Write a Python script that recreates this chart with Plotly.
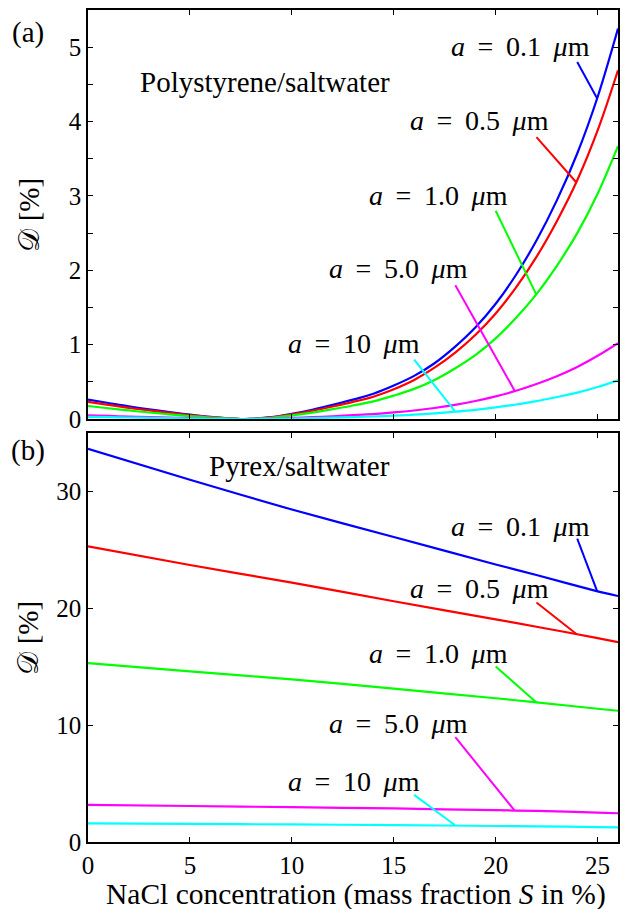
import plotly.graph_objects as go

# ---------------- data ----------------
S_top = [0, 1, 2, 3, 4, 5, 6, 7, 7.5, 8, 9, 10, 11, 12, 13, 14, 15, 16, 17, 18, 19, 20, 21, 22, 23, 24, 25, 26]
ps_a01 = [0.26, 0.215, 0.17, 0.13, 0.092, 0.058, 0.028, 0.007, 0.0, 0.003, 0.025, 0.07, 0.125, 0.19, 0.26, 0.34,
          0.45, 0.58, 0.75, 0.97, 1.23, 1.55, 1.94, 2.40, 2.94, 3.57, 4.33, 5.25]
ps_a05 = [0.23, 0.19, 0.15, 0.115, 0.082, 0.052, 0.025, 0.006, 0.0, 0.003, 0.022, 0.062, 0.11, 0.168, 0.23, 0.30,
          0.40, 0.525, 0.69, 0.89, 1.13, 1.42, 1.77, 2.18, 2.66, 3.21, 3.88, 4.69]
ps_a10 = [0.175, 0.145, 0.115, 0.088, 0.063, 0.04, 0.02, 0.005, 0.0, 0.002, 0.017, 0.048, 0.087, 0.133, 0.182, 0.238,
          0.315, 0.405, 0.525, 0.68, 0.86, 1.085, 1.36, 1.68, 2.06, 2.50, 3.03, 3.67]
ps_a50 = [0.05, 0.042, 0.033, 0.025, 0.018, 0.011, 0.005, 0.001, 0.0, 0.001, 0.005, 0.014, 0.025, 0.037, 0.051, 0.067,
          0.088, 0.114, 0.148, 0.19, 0.242, 0.305, 0.38, 0.47, 0.575, 0.70, 0.85, 1.02]
ps_a100 = [0.03, 0.025, 0.02, 0.015, 0.011, 0.007, 0.003, 0.001, 0.0, 0.0005, 0.003, 0.007, 0.013, 0.019, 0.026, 0.034,
           0.045, 0.058, 0.076, 0.098, 0.124, 0.156, 0.195, 0.24, 0.295, 0.355, 0.43, 0.52]

S_bot = [0, 5, 10, 15, 20, 22, 25, 26]
py_a01 = [33.65, 31.0, 28.45, 26.1, 23.75, 22.85, 21.45, 21.05]
py_a05 = [25.3, 23.7, 22.2, 20.6, 19.05, 18.42, 17.45, 17.1]
py_a10 = [15.3, 14.6, 13.92, 13.12, 12.3, 11.95, 11.4, 11.23]
py_a50 = [3.17, 3.08, 2.98, 2.87, 2.72, 2.66, 2.52, 2.46]
py_a100 = [1.60, 1.55, 1.50, 1.45, 1.37, 1.34, 1.28, 1.26]

colors = ["#0000ff", "#ff0000", "#00ff00", "#ff00ff", "#00ffff"]
SP = "\u00a0\u2009"
labels = [f"<i>a</i>{SP}={SP}0.1{SP}<i>μ</i>m", f"<i>a</i>{SP}={SP}0.5{SP}<i>μ</i>m",
          f"<i>a</i>{SP}={SP}1.0{SP}<i>μ</i>m", f"<i>a</i>{SP}={SP}5.0{SP}<i>μ</i>m",
          f"<i>a</i>{SP}={SP}10{SP}<i>μ</i>m"]

# label positions and pointer lines (data coords)
top_lab_x = [21.2, 19.2, 17.2, 15.23, 13.04]
top_lab_y = [5.01, 4.01, 3.01, 2.03, 1.02]
top_ptr_x0 = [24.0, 22.0, 20.0, 18.02, 16.0]
top_ptr_y0 = [4.80, 3.79, 2.80, 1.80, 0.80]
top_ptr_x1 = [24.98, 23.96, 22.0, 20.93, 17.99]
top_ptr_y1 = [4.31, 3.18, 1.67, 0.38, 0.11]

bot_lab_x = [21.2, 19.2, 17.2, 15.23, 13.04]
bot_lab_y = [27.0, 21.65, 16.17, 10.11, 5.17]
bot_ptr_x0 = [24.0, 22.0, 20.0, 18.02, 16.0]
bot_ptr_y0 = [25.96, 20.5, 15.02, 8.97, 4.03]
bot_ptr_x1 = [24.98, 23.96, 22.0, 20.93, 17.99]
bot_ptr_y1 = [21.45, 17.80, 11.94, 2.68, 1.46]

top_series = [ps_a01, ps_a05, ps_a10, ps_a50, ps_a100]
bot_series = [py_a01, py_a05, py_a10, py_a50, py_a100]

FONT = "Liberation Serif"
TXT = dict(family=FONT, size=29, color="black")
LAB = dict(family=FONT, size=28, color="black")

fig = go.Figure()
for i in range(5):
    fig.add_trace(go.Scatter(x=S_top, y=top_series[i], mode="lines", xaxis="x", yaxis="y",
                             line=dict(color=colors[i], width=2.2, shape="spline", smoothing=1.0),
                             showlegend=False, hoverinfo="skip"))
    fig.add_trace(go.Scatter(x=[top_ptr_x0[i], top_ptr_x1[i]], y=[top_ptr_y0[i], top_ptr_y1[i]],
                             mode="lines", xaxis="x", yaxis="y",
                             line=dict(color=colors[i], width=2), showlegend=False, hoverinfo="skip"))
    fig.add_trace(go.Scatter(x=S_bot, y=bot_series[i], mode="lines", xaxis="x2", yaxis="y2",
                             line=dict(color=colors[i], width=2.2, shape="spline", smoothing=0.6),
                             showlegend=False, hoverinfo="skip"))
    fig.add_trace(go.Scatter(x=[bot_ptr_x0[i], bot_ptr_x1[i]], y=[bot_ptr_y0[i], bot_ptr_y1[i]],
                             mode="lines", xaxis="x2", yaxis="y2",
                             line=dict(color=colors[i], width=2), showlegend=False, hoverinfo="skip"))

ann = []
for i in range(5):
    ann.append(dict(x=top_lab_x[i], y=top_lab_y[i], xref="x", yref="y", text=labels[i],
                    xanchor="center", yanchor="middle", showarrow=False, font=LAB))
    ann.append(dict(x=bot_lab_x[i], y=bot_lab_y[i], xref="x2", yref="y2", text=labels[i],
                    xanchor="center", yanchor="middle", showarrow=False, font=LAB))

ann.append(dict(x=8.7, y=4.53, xref="x", yref="y", text="Polystyrene/saltwater", showarrow=False,
                xanchor="center", yanchor="middle", font=TXT))
ann.append(dict(x=10.38, y=32.16, xref="x2", yref="y2", text="Pyrex/saltwater", showarrow=False,
                xanchor="center", yanchor="middle", font=TXT))
ann.append(dict(x=-0.113, y=0.9724, xref="paper", yref="paper", text="(a)", showarrow=False,
                xanchor="center", yanchor="middle", font=TXT))
ann.append(dict(x=-0.113, y=0.471, xref="paper", yref="paper", text="(b)", showarrow=False,
                xanchor="center", yanchor="middle", font=TXT))
for yc in [0.7542, 0.2458]:
    ann.append(dict(x=-0.113, y=yc, xref="paper", yref="paper", text="𝒟 [%]", textangle=-90,
                    xanchor="center", yanchor="middle", showarrow=False, font=TXT))
ann.append(dict(x=0.505, y=-0.0625, xref="paper", yref="paper",
                text="NaCl concentration (mass fraction <i>S</i> in %)", showarrow=False,
                xanchor="center", yanchor="middle",
                font=dict(family=FONT, size=29.5, color="black")))

axis_common = dict(showline=True, linecolor="black", linewidth=1.5, mirror="ticks",
                   ticks="inside", ticklen=5, tickwidth=1.2, tickcolor="black",
                   showgrid=False, zeroline=False, automargin=False,
                   tickfont=dict(family=FONT, size=25, color="black"))

top_yt = [0, 0.5, 1, 1.5, 2, 2.5, 3, 3.5, 4, 4.5, 5]
top_ytxt = ["0", "", "1", "", "2", "", "3", "", "4", "", "5"]
x_ticks = [0, 5, 10, 15, 20, 25]

fig.update_layout(
    width=623, height=909,
    margin=dict(l=88, r=5, t=10, b=67),
    paper_bgcolor="white", plot_bgcolor="white",
    annotations=ann,
    xaxis=dict(axis_common, domain=[0, 1], range=[0, 26], anchor="y",
               tickvals=x_ticks, showticklabels=False),
    yaxis=dict(axis_common, domain=[0.5084, 1], range=[0, 5.5], anchor="x",
               tickvals=top_yt, ticktext=top_ytxt),
    xaxis2=dict(axis_common, domain=[0, 1], range=[0, 26], anchor="y2",
                tickvals=x_ticks),
    yaxis2=dict(axis_common, domain=[0, 0.4916], range=[0, 35], anchor="x2",
                tickvals=[0, 10, 20, 30]),
)

fig.write_html("out.html", config={"displayModeBar": False},
               post_script="document.body.style.margin='0';document.body.style.overflow='hidden';")
